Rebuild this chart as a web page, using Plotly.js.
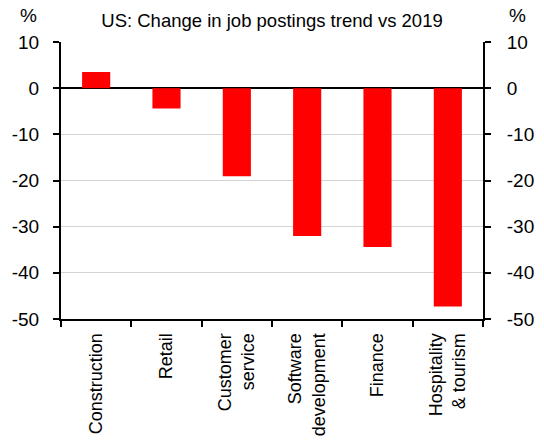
<!DOCTYPE html>
<html>
<head>
<meta charset="utf-8">
<script src="https://cdn.plot.ly/plotly-3.0.1.min.js"></script>
<style>html,body{margin:0;padding:0;background:#fff;}#chart{width:544px;height:441px;}</style>
</head>
<body>
<div id="chart"></div>
<script>
const categories = ["Construction", "Retail", "Customer<br>service", "Software<br>development", "Finance", "Hospitality<br>& tourism"];
const changeVs2019 = [3.5, -4.4, -19.1, -32.0, -34.4, -47.3];
const yTicks = [10, 0, -10, -20, -30, -40, -50];
const titleText = "US: Change in job postings trend vs 2019";
const unitLabel = "%";

const font = "Liberation Sans, Arial, sans-serif";

const data = [{
  type: "bar",
  x: categories,
  y: changeVs2019,
  marker: {color: "#ff0000"},
  width: 0.4,
  hoverinfo: "x+y"
}];

const yCommon = {
  range: [-50, 10],
  tickvals: yTicks,
  ticktext: yTicks.map(String),
  ticks: "outside",
  ticklen: 6,
  tickwidth: 2,
  tickcolor: "#000",
  showline: true,
  linecolor: "#000",
  linewidth: 2,
  tickfont: {family: font, size: 19, color: "#000"},
  fixedrange: true
};

const layout = {
  width: 544,
  height: 441,
  margin: {l: 61, r: 61, t: 42, b: 122},
  paper_bgcolor: "#fff",
  plot_bgcolor: "#fff",
  showlegend: false,
  font: {family: font, color: "#000"},
  title: {
    text: titleText,
    font: {family: font, size: 18.5, color: "#000"},
    x: 0.5, xref: "paper", xanchor: "center",
    y: 17, yref: "container", yanchor: "middle"
  },
  xaxis: {
    type: "category",
    tickson: "boundaries",
    ticks: "outside",
    ticklen: 6,
    tickwidth: 2,
    tickcolor: "#000",
    showline: true,
    linecolor: "#000",
    linewidth: 2,
    tickangle: -90,
    tickfont: {family: font, size: 18, color: "#000"},
    ticklabelstandoff: 5,
    showgrid: false,
    fixedrange: true
  },
  yaxis: Object.assign({}, yCommon, {
    side: "left",
    showgrid: true,
    gridcolor: "#d4d4d4",
    gridwidth: 1,
    zeroline: true,
    zerolinecolor: "#000",
    zerolinewidth: 2,
    ticklabelstandoff: 10
  }),
  yaxis2: Object.assign({}, yCommon, {
    overlaying: "y",
    side: "right",
    showgrid: false,
    zeroline: false,
    ticklabelstandoff: 12
  }),
  annotations: [
    {text: unitLabel, xref: "paper", yref: "paper", x: 0, y: 1, xshift: -43, yshift: 27,
     xanchor: "left", yanchor: "middle", showarrow: false, font: {family: font, size: 19, color: "#000"}},
    {text: unitLabel, xref: "paper", yref: "paper", x: 1, y: 1, xshift: 24, yshift: 27,
     xanchor: "left", yanchor: "middle", showarrow: false, font: {family: font, size: 19, color: "#000"}}
  ]
};

data.push({type: "scatter", x: [categories[0]], y: [null], yaxis: "y2", showlegend: false, hoverinfo: "skip"});

Plotly.newPlot("chart", data, layout, {displayModeBar: false, staticPlot: true});
</script>
</body>
</html>
